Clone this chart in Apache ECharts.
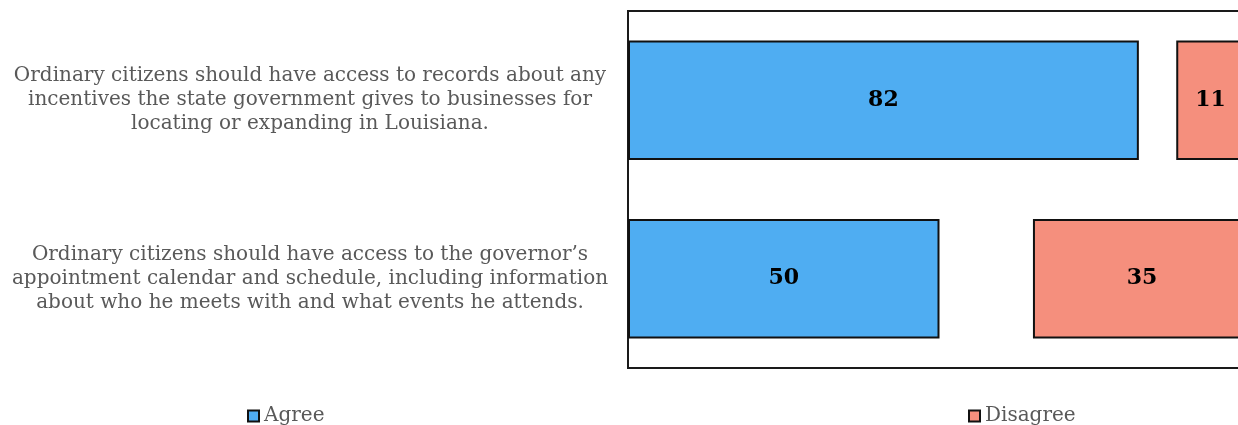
<!DOCTYPE html>
<html>
<head>
<meta charset="utf-8">
<script src="https://cdn.jsdelivr.net/npm/echarts@6/dist/echarts.min.js"></script>
<style>
  html, body { margin: 0; padding: 0; background: #fff; overflow: hidden; }
  /* plot runs past the right edge of the window, like the original */
  #chart { width: 1251px; height: 425px; }
</style>
</head>
<body>
<div id="chart"></div>
<script>
// statements (top to bottom)
const statements = [
  'Ordinary citizens should have access to records about any\nincentives the state government gives to businesses for\nlocating or expanding in Louisiana.',
  'Ordinary citizens should have access to the governor\u2019s\nappointment calendar and schedule, including information\nabout who he meets with and what events he attends.'
];
const agree = [82, 50];
const gap = [6, 15];       // blank space between the two bars
const disagree = [11, 35];

const font = 'DejaVu Serif';

let myChart = echarts.init(document.getElementById('chart'));

const option = {
  animation: false,
  textStyle: { fontFamily: font },
  grid: {
    left: 628, right: 0, top: 11, bottom: 57,
    show: true, borderColor: '#1a1a1a', borderWidth: 2, backgroundColor: 'transparent'
  },
  legend: [{
    data: ['Agree'], left: 242, top: 401,
    itemWidth: 11, itemHeight: 11, icon: 'rect',
    textStyle: { fontFamily: font, fontSize: 20, color: '#595959' }
  }, {
    data: ['Disagree'], left: 963, top: 401,
    itemWidth: 11, itemHeight: 11, icon: 'rect',
    textStyle: { fontFamily: font, fontSize: 20, color: '#595959' }
  }],
  xAxis: {
    type: 'value', min: 0, max: 100,
    show: false
  },
  yAxis: {
    type: 'category', inverse: true, data: statements,
    axisLine: { show: false }, axisTick: { show: false },
    axisLabel: {
      align: 'center', margin: 318,
      fontFamily: font, fontSize: 20, lineHeight: 24, color: '#595959'
    }
  },
  series: [{
    name: 'Agree', type: 'bar', stack: 'a', data: agree, barWidth: '67%',
    itemStyle: { color: '#4FADF2', borderColor: '#111', borderWidth: 2 },
    label: { show: true, position: 'inside', color: '#000', fontWeight: 'bold', fontSize: 22, fontFamily: font }
  }, {
    name: 'gap', type: 'bar', stack: 'a', data: gap,
    itemStyle: { color: 'transparent' }, silent: true
  }, {
    name: 'Disagree', type: 'bar', stack: 'a', data: disagree,
    itemStyle: { color: '#F58F7D', borderColor: '#111', borderWidth: 2 },
    label: { show: true, position: 'inside', color: '#000', fontWeight: 'bold', fontSize: 22, fontFamily: font }
  }]
};

myChart.setOption(option);
</script>
</body>
</html>
